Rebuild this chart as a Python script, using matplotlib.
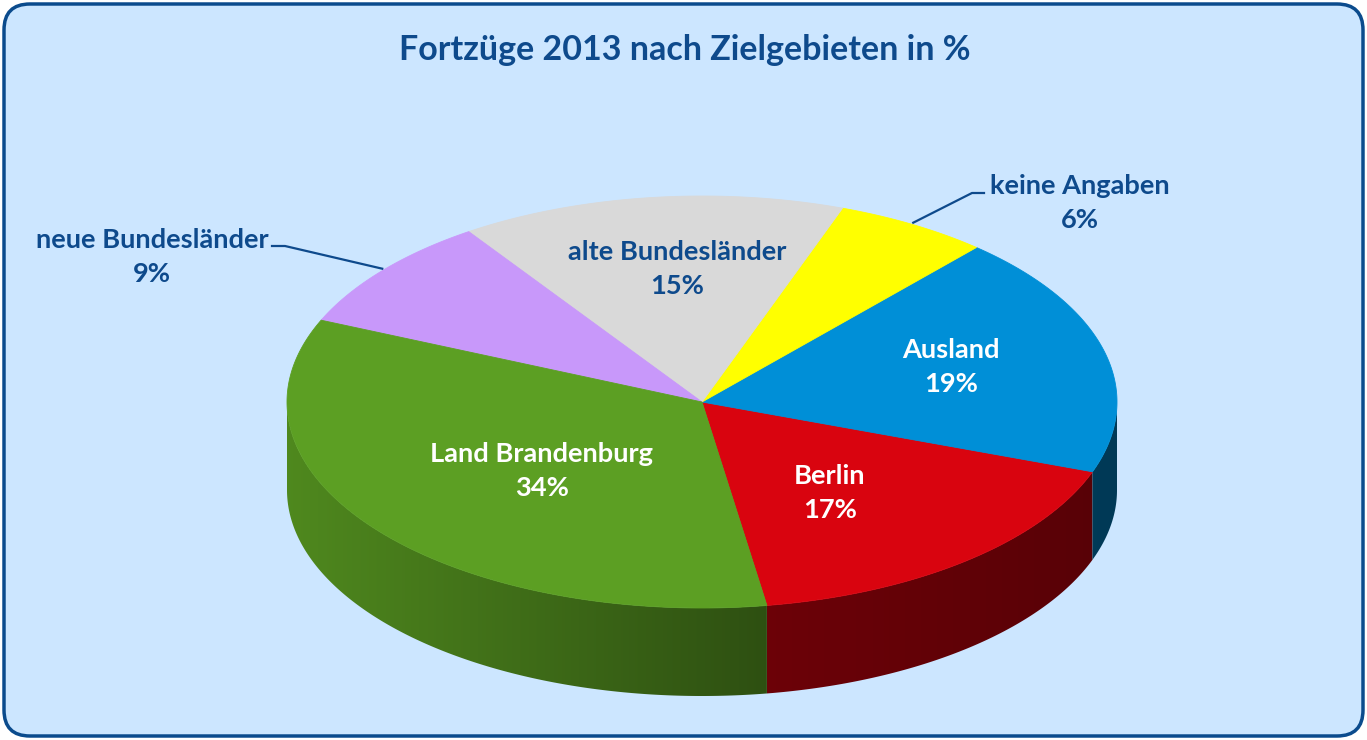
import numpy as np
import matplotlib.pyplot as plt
from matplotlib.patches import Polygon, FancyBboxPatch
from matplotlib.colors import to_rgb

# Daten: Fortzüge 2013 nach Zielgebieten (in %)
labels = ['Berlin', 'Ausland', 'keine Angaben', 'alte Bundesländer',
          'neue Bundesländer', 'Land Brandenburg']
shares = [17, 19, 6, 15, 9, 34]
colors = ['#D9040F', '#008FD7', '#FFFF00', '#D9D9D9', '#C898FA', '#5C9F23']
label_colors = ['white', 'white', '#0E4A8C', '#0E4A8C', '#0E4A8C', 'white']
title = 'Fortzüge 2013 nach Zielgebieten in %'

start_angle = -81.0

# Geometrie der Torte (Pixel)
cx, cy, rx, ry, depth = 702, 402, 415, 206, 88
W, H = 1367, 740

# Lage der Beschriftungen (Pixel)
label_pos = [(830, 493), (951, 367), (1080, 203), (677, 269), (152, 257), (542, 471)]

font = ['Lato', 'DejaVu Sans']
dark = '#0E4A8C'
lab_size = 19.6


def pt(t, dy=0.0):
    t = np.radians(t)
    return cx + rx * np.cos(t), cy - ry * np.sin(t) + dy


def shade(x):
    # Seitenwand wird nach rechts dunkler
    return np.interp(x, [cx - rx, cx + 66, cx + rx], [0.86, 0.50, 0.40])


fig = plt.figure(figsize=(W / 100, H / 100), dpi=100)
ax = fig.add_axes([0, 0, 1, 1])
ax.set_xlim(0, W)
ax.set_ylim(H, 0)
ax.axis('off')
fig.patch.set_facecolor('white')

frame = FancyBboxPatch((4, 4), W - 8, H - 8, boxstyle='round,pad=0,rounding_size=26',
                       facecolor='#CCE6FF', edgecolor='#0B4B8D', linewidth=2.5)
ax.add_patch(frame)

bounds = start_angle + 360 * np.concatenate([[0], np.cumsum(shares)]) / sum(shares)

# Seitenwände (nur vordere Hälfte, 180°..360°)
for i in range(len(shares)):
    a0, a1 = bounds[i], bounds[i + 1]
    for shift in (0, 360, -360):
        lo = max(a0 + shift, 180)
        hi = min(a1 + shift, 360)
        if hi <= lo:
            continue
        ts = np.linspace(lo, hi, 200)
        top = np.array([pt(t) for t in ts])
        bot = np.array([pt(t, depth) for t in ts[::-1]])
        poly = np.vstack([top, bot])
        patch = Polygon(poly, closed=True, facecolor='none', edgecolor='none')
        ax.add_patch(patch)
        x0, x1 = poly[:, 0].min(), poly[:, 0].max()
        y0, y1 = poly[:, 1].min(), poly[:, 1].max()
        xs = np.linspace(x0, x1, 300)
        base = np.array(to_rgb(colors[i]))
        grad = (shade(xs)[:, None] * base[None, :])[None, :, :]
        im = ax.imshow(grad, extent=(x0 - 1, x1 + 1, y1 + 1, y0 - 1),
                       aspect='auto', interpolation='bilinear', zorder=2)
        im.set_clip_path(patch)

# Deckfläche
for i in range(len(shares)):
    ts = np.linspace(bounds[i], bounds[i + 1], 200)
    arc = np.array([pt(t) for t in ts])
    poly = np.vstack([[cx, cy], arc])
    ax.add_patch(Polygon(poly, closed=True, facecolor=colors[i],
                         edgecolor=colors[i], linewidth=0.6, zorder=3))

# Führungslinien für die Beschriftungen außen
leaders = {2: ((984, 193), (972, 193)), 4: ((272, 246), (285, 246))}
for i, (p_end, p_knee) in leaders.items():
    mid = (bounds[i] + bounds[i + 1]) / 2
    ex, ey = pt(mid)
    ax.plot([ex, p_knee[0], p_end[0]], [ey - 2, p_knee[1], p_end[1]],
            color=dark, linewidth=1.6, zorder=5)

for i, (x, y) in enumerate(label_pos):
    ax.text(x, y, f'{labels[i]}\n{shares[i]}%', ha='center', va='center',
            color=label_colors[i], fontsize=lab_size, fontweight='bold',
            family=font, linespacing=1.5, zorder=5)

ax.text(685, 50, title, ha='center', va='center', color=dark, fontsize=24.5,
        fontweight='bold', family=font, zorder=5)

fig.savefig('out.png', dpi=100)
